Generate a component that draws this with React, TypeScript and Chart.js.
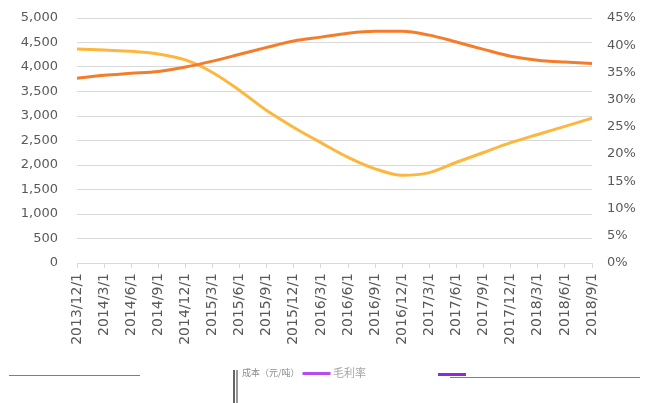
import React, { useEffect, useRef } from "react";
import { Chart, registerables } from "chart.js";

Chart.register(...registerables);

const categories = [
  "2013/12/1", "2014/3/1", "2014/6/1", "2014/9/1", "2014/12/1",
  "2015/3/1", "2015/6/1", "2015/9/1", "2015/12/1", "2016/3/1",
  "2016/6/1", "2016/9/1", "2016/12/1", "2017/3/1", "2017/6/1",
  "2017/9/1", "2017/12/1", "2018/3/1", "2018/6/1", "2018/9/1",
];

const costPerTon = [
  3770, 3830, 3870, 3910, 4000, 4120, 4260, 4400, 4530, 4610,
  4690, 4730, 4730, 4650, 4510, 4360, 4220, 4140, 4100, 4070,
];

const grossMargin = [
  39.3, 39.1, 38.9, 38.4, 37.3, 35.0, 31.7, 28.0, 24.9, 22.1,
  19.4, 17.3, 16.1, 16.6, 18.5, 20.3, 22.1, 23.6, 25.1, 26.6,
];

const seriesNames = ["成本（元/吨）", "毛利率"];

const FONT = "'DejaVu Sans', sans-serif";
const CJK = "'Noto Sans CJK SC', sans-serif";
const GRAY = "#595959";
const GRID = "#d9d9d9";

const legendPlugin = {
  id: "bottomLegend",
  afterDraw(chart: any) {
    const ctx = chart.ctx;
    ctx.save();
    ctx.strokeStyle = "#7f7f7f";
    ctx.lineWidth = 1;
    ctx.beginPath();
    ctx.moveTo(9, 375.5);
    ctx.lineTo(140, 375.5);
    ctx.moveTo(450, 377.5);
    ctx.lineTo(640, 377.5);
    ctx.stroke();
    ctx.fillStyle = "#666";
    ctx.fillRect(233, 370, 2, 33);
    ctx.fillStyle = "#999";
    ctx.fillRect(236, 370, 2, 33);
    ctx.font = `9px ${CJK}`;
    ctx.textBaseline = "middle";
    ctx.fillStyle = "#8c8c8c";
    ctx.textAlign = "left";
    ctx.fillText(seriesNames[0], 242, 373);
    const end = 242 + ctx.measureText(seriesNames[0]).width;
    ctx.fillStyle = "#b44cf0";
    ctx.fillRect(Math.max(288, end + 3), 372, 28, 3);
    ctx.font = `11px ${CJK}`;
    ctx.fillStyle = "#a6a6a6";
    ctx.fillText(seriesNames[1], 333, 373);
    ctx.fillStyle = "#8a2be2";
    ctx.fillRect(438, 373, 28, 3);
    ctx.restore();
  },
};

export default function App() {
  const ref = useRef<HTMLCanvasElement>(null);
  useEffect(() => {
    document.body.style.margin = "0";
    const chart = new Chart(ref.current!, {
      type: "line",
      data: {
        labels: categories,
        datasets: [
          {
            label: seriesNames[0],
            data: costPerTon,
            yAxisID: "y",
            borderColor: "#f47d2b",
            backgroundColor: "#f47d2b",
            borderWidth: 3,
            pointRadius: 0,
            cubicInterpolationMode: "monotone",
          },
          {
            label: seriesNames[1],
            data: grossMargin,
            yAxisID: "y1",
            borderColor: "#fdb63e",
            backgroundColor: "#fdb63e",
            borderWidth: 3,
            pointRadius: 0,
            cubicInterpolationMode: "monotone",
          },
        ],
      },
      options: {
        animation: false,
        responsive: false,
        layout: { padding: { top: 18, bottom: 40, left: 0, right: 0 } },
        plugins: { legend: { display: false }, tooltip: { enabled: false } },
        scales: {
          x: {
            offset: false,
            grid: {
              display: true,
              drawOnChartArea: false,
              color: GRID,
              tickLength: 5,
            },
            border: { color: GRID },
            ticks: {
              autoSkip: false,
              maxRotation: 90,
              minRotation: 90,
              padding: 5,
              color: GRAY,
              font: { family: FONT, size: 14 },
            },
            afterFit(scale: any) {
              scale.height = 100;
            },
          },
          y: {
            position: "left",
            min: 0,
            max: 5000,
            grid: { color: GRID, drawTicks: true, tickLength: 16, tickColor: "rgba(0,0,0,0)" },
            border: { display: false },
            ticks: {
              stepSize: 500,
              padding: 3,
              color: GRAY,
              font: { family: FONT, size: 13 },
              callback: (v: any) => Number(v).toLocaleString("en-US"),
            },
            afterFit(scale: any) {
              scale.width = 77;
            },
          },
          y1: {
            position: "right",
            min: 0,
            max: 45,
            grid: { display: false, drawTicks: true, tickLength: 12, tickColor: "rgba(0,0,0,0)" },
            border: { display: false },
            ticks: {
              stepSize: 5,
              padding: 3,
              color: GRAY,
              font: { family: FONT, size: 13 },
              callback: (v: any) => `${v}%`,
            },
            afterFit(scale: any) {
              scale.width = 61;
            },
          },
        },
      },
      plugins: [legendPlugin],
    });
    return () => chart.destroy();
  }, []);
  return <canvas ref={ref} width={653} height={403} style={{ display: "block" }} />;
}
